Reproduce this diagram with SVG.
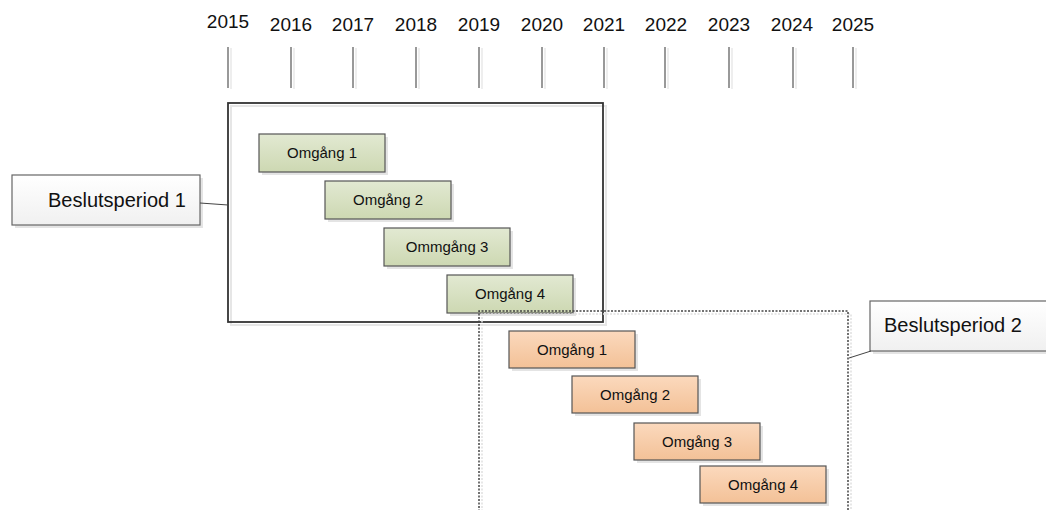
<svg xmlns="http://www.w3.org/2000/svg" width="1046" height="510" viewBox="0 0 1046 510">
<defs>
<linearGradient id="gGreen" x1="0" y1="0" x2="0" y2="1"><stop offset="0" stop-color="#e2e9d2"/><stop offset="1" stop-color="#cdd8b2"/></linearGradient>
<linearGradient id="gOrange" x1="0" y1="0" x2="0" y2="1"><stop offset="0" stop-color="#fbd9bd"/><stop offset="1" stop-color="#f3c197"/></linearGradient>
<linearGradient id="gWhite" x1="0" y1="0" x2="0" y2="1"><stop offset="0" stop-color="#ffffff"/><stop offset="1" stop-color="#f0f0f0"/></linearGradient>
<style>
text{font-family:"Liberation Sans",Arial,sans-serif;fill:#111}
.yr{font-size:19px;text-anchor:middle}
.tick{stroke:#555;stroke-width:1.2}
.tick2{stroke:#ddd;stroke-width:1}
.shadow{fill:#d9d9d9;opacity:0.7}
.bx{stroke:#555;stroke-width:1.2}
.green{fill:url(#gGreen)}
.orange{fill:url(#gOrange)}
.lbl{font-size:15px;text-anchor:middle}
.big{font-size:20px}
.conn{stroke:#444;stroke-width:1;fill:none}
</style>
</defs>
<rect width="1046" height="510" fill="#fff"/>
<g id="timeline">
<text class="yr" x="228" y="28">2015</text>
<text class="yr" x="291" y="31">2016</text>
<text class="yr" x="353" y="31">2017</text>
<text class="yr" x="416" y="31">2018</text>
<text class="yr" x="479" y="31">2019</text>
<text class="yr" x="542" y="31">2020</text>
<text class="yr" x="604" y="31">2021</text>
<text class="yr" x="666" y="31">2022</text>
<text class="yr" x="729" y="31">2023</text>
<text class="yr" x="792" y="31">2024</text>
<text class="yr" x="853" y="31">2025</text>
<g class="tick2">
<line x1="231" y1="48" x2="231" y2="89"/><line x1="294" y1="48" x2="294" y2="89"/><line x1="356" y1="48" x2="356" y2="89"/><line x1="419" y1="48" x2="419" y2="89"/><line x1="482" y1="48" x2="482" y2="89"/><line x1="545" y1="48" x2="545" y2="89"/><line x1="607" y1="48" x2="607" y2="89"/><line x1="668" y1="48" x2="668" y2="89"/><line x1="732" y1="48" x2="732" y2="89"/><line x1="796" y1="48" x2="796" y2="89"/><line x1="856" y1="48" x2="856" y2="89"/>
</g>
<g class="tick">
<line x1="228" y1="47" x2="228" y2="88"/><line x1="291" y1="47" x2="291" y2="88"/><line x1="353" y1="47" x2="353" y2="88"/><line x1="416" y1="47" x2="416" y2="88"/><line x1="479" y1="47" x2="479" y2="88"/><line x1="542" y1="47" x2="542" y2="88"/><line x1="604" y1="47" x2="604" y2="88"/><line x1="665" y1="47" x2="665" y2="88"/><line x1="729" y1="47" x2="729" y2="88"/><line x1="793" y1="47" x2="793" y2="88"/><line x1="853" y1="47" x2="853" y2="88"/>
</g>
</g>
<g id="frame1">
<rect x="231" y="106" width="375" height="219" fill="none" stroke="#e6e6e6" stroke-width="2"/>
<rect x="228" y="103" width="375" height="219" fill="none" stroke="#333" stroke-width="1.8"/>
</g>
<g id="g1">
<rect class="shadow" x="262" y="137" width="126" height="38"/>
<rect class="bx green" x="259" y="134" width="126" height="38"/>
<text class="lbl" x="322" y="158">Omgång 1</text>
</g>
<g id="g2">
<rect class="shadow" x="328" y="184" width="126" height="38"/>
<rect class="bx green" x="325" y="181" width="126" height="38"/>
<text class="lbl" x="388" y="205">Omgång 2</text>
</g>
<g id="g3">
<rect class="shadow" x="387" y="231" width="126" height="38"/>
<rect class="bx green" x="384" y="228" width="126" height="38"/>
<text class="lbl" x="447" y="252">Ommgång 3</text>
</g>
<g id="g4">
<rect class="shadow" x="450" y="278" width="126" height="38"/>
<rect class="bx green" x="447" y="275" width="126" height="38"/>
<text class="lbl" x="510" y="299">Omgång 4</text>
</g>
<g id="frame2">
<path d="M482 515 V314 H851 V515" fill="none" stroke="#e0e0e0" stroke-width="1.5" stroke-dasharray="2 1.5"/>
<path d="M479 515 V311 H848 V515" fill="none" stroke="#444" stroke-width="1.5" stroke-dasharray="2 1.5"/>
</g>
<g id="o1">
<rect class="shadow" x="512" y="334" width="126" height="37"/>
<rect class="bx orange" x="509" y="331" width="126" height="37"/>
<text class="lbl" x="572" y="355">Omgång 1</text>
</g>
<g id="o2">
<rect class="shadow" x="575" y="379" width="126" height="37"/>
<rect class="bx orange" x="572" y="376" width="126" height="37"/>
<text class="lbl" x="635" y="400">Omgång 2</text>
</g>
<g id="o3">
<rect class="shadow" x="637" y="426" width="126" height="37"/>
<rect class="bx orange" x="634" y="423" width="126" height="37"/>
<text class="lbl" x="697" y="447">Omgång 3</text>
</g>
<g id="o4">
<rect class="shadow" x="703" y="469" width="126" height="37"/>
<rect class="bx orange" x="700" y="466" width="126" height="37"/>
<text class="lbl" x="763" y="490">Omgång 4</text>
</g>
<g id="bp1">
<rect class="shadow" x="15" y="178" width="188" height="50"/>
<rect x="12" y="175" width="188" height="50" fill="url(#gWhite)" stroke="#666" stroke-width="1.2"/>
<text class="big" x="48" y="207">Beslutsperiod 1</text>
</g>
<g id="bp2">
<rect class="shadow" x="873" y="304" width="180" height="50"/>
<rect x="870" y="301" width="180" height="50" fill="url(#gWhite)" stroke="#666" stroke-width="1.2"/>
<text class="big" x="884" y="332">Beslutsperiod 2</text>
</g>
<g id="connectors">
<path class="conn" d="M200 203 L228 205"/>
<path class="conn" d="M849 358 L871 351"/>
</g>
</svg>
